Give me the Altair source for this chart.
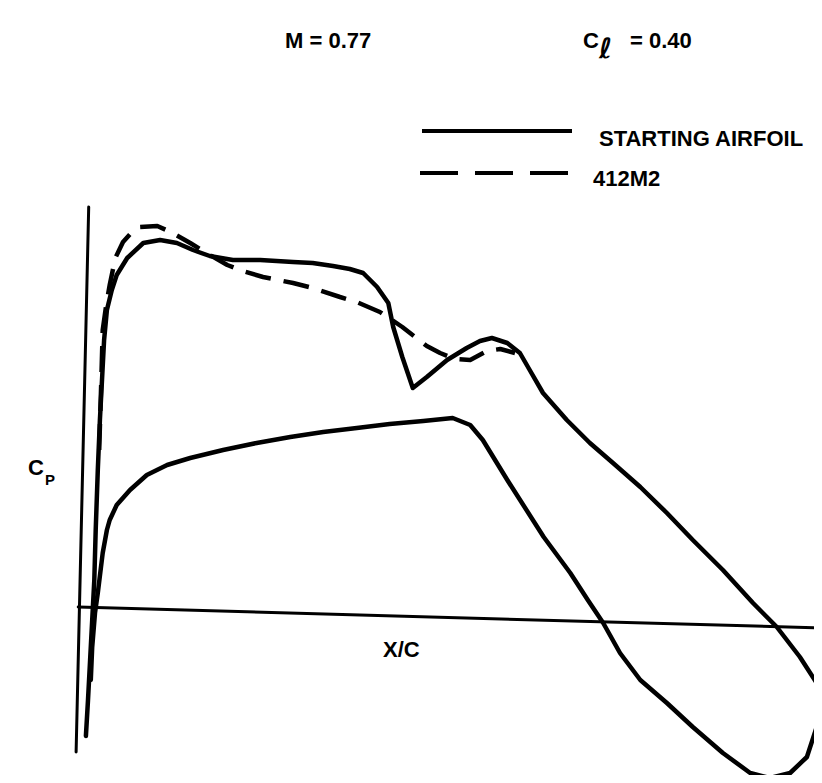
import altair as alt
import pandas as pd

# Starting airfoil, upper surface (x/c, -Cp), traced leading edge -> trailing edge
start_upper_x = [-0.003, 0.000, 0.003, 0.006, 0.009, 0.011, 0.014, 0.017, 0.020, 0.023,
                 0.027, 0.034, 0.041, 0.056, 0.079, 0.103, 0.127, 0.150, 0.174, 0.207,
                 0.246, 0.293, 0.321, 0.350, 0.374, 0.393, 0.413, 0.429, 0.436, 0.449,
                 0.464, 0.484, 0.513, 0.541, 0.560, 0.577, 0.599, 0.617, 0.631, 0.650,
                 0.684, 0.717, 0.750, 0.789, 0.827, 0.864, 0.907, 0.950, 0.984, 1.017,
                 1.041, 1.049, 1.041, 1.027, 1.003, 0.974]
start_upper_cp = [-0.496, -0.352, -0.192, -0.032, 0.128, 0.328, 0.568, 0.768, 0.928, 1.088,
                  1.208, 1.288, 1.348, 1.416, 1.476, 1.488, 1.476, 1.448, 1.424, 1.408,
                  1.408, 1.400, 1.396, 1.384, 1.372, 1.356, 1.300, 1.236, 1.140, 1.020,
                  0.896, 0.940, 1.008, 1.056, 1.084, 1.096, 1.076, 1.036, 0.968, 0.876,
                  0.768, 0.676, 0.596, 0.500, 0.396, 0.288, 0.168, 0.036, -0.060, -0.180,
                  -0.284, -0.352, -0.460, -0.580, -0.644, -0.664]

# Starting airfoil, lower surface
start_lower_x = [0.004, 0.006, 0.010, 0.014, 0.021, 0.027, 0.031, 0.041, 0.060, 0.084,
                 0.113, 0.146, 0.193, 0.241, 0.289, 0.336, 0.384, 0.431, 0.479, 0.521,
                 0.546, 0.564, 0.599, 0.651, 0.689, 0.714, 0.736, 0.760, 0.789, 0.827,
                 0.864, 0.907, 0.946, 0.974]
start_lower_cp = [-0.272, -0.140, -0.004, 0.076, 0.236, 0.328, 0.368, 0.428, 0.488, 0.548,
                  0.588, 0.616, 0.648, 0.676, 0.700, 0.720, 0.736, 0.752, 0.764, 0.776,
                  0.748, 0.688, 0.528, 0.300, 0.156, 0.048, -0.044, -0.164, -0.272, -0.364,
                  -0.460, -0.564, -0.644, -0.664]

# 412M2, upper surface (dashed, where it differs)
mod_upper_x = [0.016, 0.019, 0.021, 0.026, 0.031, 0.039, 0.050, 0.063, 0.074, 0.099,
               0.121, 0.146, 0.174, 0.199, 0.221, 0.250, 0.293, 0.321, 0.360, 0.384,
               0.417, 0.449, 0.484, 0.503, 0.524, 0.546, 0.570, 0.589, 0.610]
mod_upper_cp = [0.648, 0.928, 1.128, 1.228, 1.308, 1.416, 1.480, 1.520, 1.540, 1.544,
                1.516, 1.476, 1.428, 1.388, 1.364, 1.340, 1.316, 1.296, 1.260, 1.240,
                1.200, 1.140, 1.064, 1.036, 1.012, 1.008, 1.044, 1.052, 1.036]

# Hand-drawn axis lines (x/c, -Cp) end points
vaxis_x = [0.001, -0.017]
vaxis_cp = [1.620, -0.560]
haxis_x = [-0.014, 1.049]
haxis_cp = [0.020, -0.064]

W, H = 806, 767
XDOM = [-0.11429, 1.03714]
YDOM = [-0.652, 2.416]


def frame(xs, ys, name):
    return pd.DataFrame({"x": xs, "cp": ys, "series": name, "ord": list(range(len(xs)))})


xs = alt.Scale(domain=XDOM, nice=False, zero=False)
ys = alt.Scale(domain=YDOM, nice=False, zero=False)


def line(df, width, dash=None):
    kw = dict(color="black", strokeWidth=width, strokeCap="round", strokeJoin="round")
    if dash:
        kw["strokeDash"] = dash
        kw["strokeCap"] = "butt"
    return alt.Chart(df).mark_line(**kw).encode(
        x=alt.X("x:Q", scale=xs, axis=None),
        y=alt.Y("cp:Q", scale=ys, axis=None),
        order="ord:Q",
    )


layers = [
    line(frame(vaxis_x, vaxis_cp, "vaxis"), 3),
    line(frame(haxis_x, haxis_cp, "haxis"), 3),
    line(frame(start_upper_x, start_upper_cp, "upper"), 4.5),
    line(frame(start_lower_x, start_lower_cp, "lower"), 4.5),
    line(frame(mod_upper_x, mod_upper_cp, "412M2"), 4.5, [26, 13]),
]

one = alt.Data(values=[{"a": 1}])
FONT = "Liberation Sans, Arial, sans-serif"


def txt(s, x, y, size=22, weight="bold", font=FONT):
    return alt.Chart(one).mark_text(
        text=s, align="left", baseline="alphabetic", fontSize=size,
        font=font, fontWeight=weight, color="black"
    ).encode(x=alt.value(x), y=alt.value(y))


def rule(x1, x2, y, dash=None):
    kw = dict(color="black", strokeWidth=4)
    if dash:
        kw["strokeDash"] = dash
    return alt.Chart(one).mark_rule(**kw).encode(
        x=alt.value(x1), x2=alt.value(x2), y=alt.value(y))


layers += [
    txt("M = 0.77", 277, 40),
    txt("C", 575, 40),
    txt("ℓ", 591, 50, size=28, font="DejaVu Sans, sans-serif"),
    txt("= 0.40", 622, 40),
    rule(414, 564, 123),
    rule(412, 562, 165, [38, 17]),
    txt("STARTING AIRFOIL", 591, 138),
    txt("412M2", 585, 178),
    txt("C", 20, 467),
    txt("P", 37, 477, size=15),
    txt("X/C", 375, 649),
]

chart = alt.layer(*layers).properties(
    width=W, height=H, autosize=alt.AutoSizeParams(type="none"), padding=0
).configure_view(stroke=None)

chart.save("out.html", embed_options={"renderer": "svg", "actions": False})
